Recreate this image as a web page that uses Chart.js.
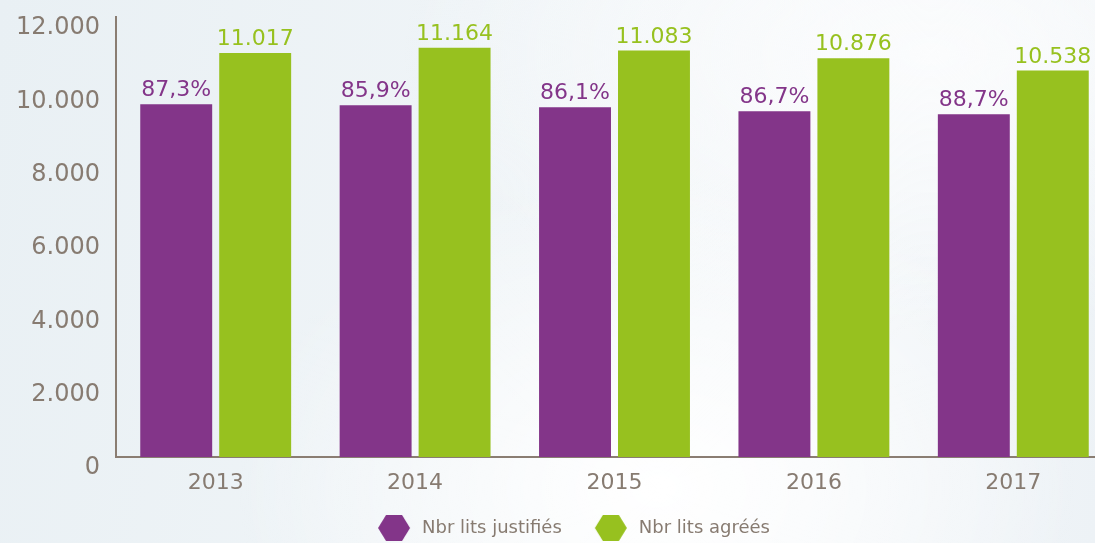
<!DOCTYPE HTML>
<html>
<head>
    <title>Lits justifiés / agréés</title>
    <meta charset="utf-8" />
    <script src="https://cdn.jsdelivr.net/npm/chart.js"></script>
    <style>
        html, body { margin: 0; padding: 0; overflow: hidden; }
        body {
            width: 1095px; height: 543px;
            background:
                radial-gradient(ellipse at 60% 90%, #ffffff 0%, rgba(255,255,255,0) 45%),
                radial-gradient(ellipse at 85% 10%, #fbfcfd 0%, rgba(255,255,255,0) 40%),
                linear-gradient(100deg, #e9f0f4 0%, #eff4f7 40%, #f5f8fa 70%, #edf2f6 100%);
        }
        #wrap { position: absolute; left: 0; top: 0; width: 1145px; height: 543px; }
    </style>
</head>
<body>
    <div id="wrap"><canvas id="graficoLits"></canvas></div>

    <script>
        // données
        var annees = ['2013', '2014', '2015', '2016', '2017'];
        var litsAgrees = [11017, 11164, 11083, 10876, 10538];
        var litsJustifies = [9618, 9590, 9542, 9430, 9347];
        var pctJustifies = ['87,3%', '85,9%', '86,1%', '86,7%', '88,7%'];
        var yTicks = [0, 2000, 4000, 6000, 8000, 10000, 12000];

        var violet = '#833589';
        var vert = '#97c11f';
        var gris = '#877b71';
        var police = '"DejaVu Sans", sans-serif';

        function milliers(v) {
            return String(v).replace(/\B(?=(\d{3})+(?!\d))/g, '.');
        }

        // hexagone pour la légende
        function hexagone(couleur) {
            var c = document.createElement('canvas');
            c.width = 34; c.height = 28;
            var g = c.getContext('2d');
            g.fillStyle = couleur;
            g.beginPath();
            g.moveTo(1, 14);
            g.lineTo(9, 1);
            g.lineTo(25, 1);
            g.lineTo(33, 14);
            g.lineTo(25, 27);
            g.lineTo(9, 27);
            g.closePath();
            g.fill();
            return c;
        }
        var hexas = [hexagone(violet), hexagone(vert)];

        // étiquettes au-dessus des barres
        var etiquettes = {
            id: 'etiquettes',
            afterDatasetsDraw: function (chart) {
                var ctx = chart.ctx;
                ctx.save();
                ctx.font = '22px ' + police;
                ctx.textAlign = 'center';
                ctx.textBaseline = 'alphabetic';
                chart.data.datasets.forEach(function (ds, i) {
                    var meta = chart.getDatasetMeta(i);
                    meta.data.forEach(function (bar, j) {
                        ctx.fillStyle = ds.backgroundColor;
                        var txt = i === 0 ? pctJustifies[j] : milliers(ds.data[j]);
                        ctx.fillText(txt, bar.x, bar.y - 8);
                    });
                });
                ctx.restore();
            }
        };

        // légende : hauteur fixe et petit décalage vers la droite
        var reglageLegende = {
            id: 'reglageLegende',
            afterInit: function (chart) {
                var fit = chart.legend.fit;
                chart.legend.fit = function () {
                    fit.bind(chart.legend)();
                    this.height = 54;
                };
            },
            afterLayout: function (chart) {
                chart.legend.left += 16;
                chart.legend.right += 16;
            }
        };

        var ctx = document.getElementById('graficoLits').getContext('2d');
        var chart = new Chart(ctx, {
            type: 'bar',
            data: {
                labels: annees,
                datasets: [
                    {
                        label: 'Nbr lits justifiés',
                        data: litsJustifies,
                        backgroundColor: violet,
                        borderWidth: 0,
                        categoryPercentage: 0.792,
                        barPercentage: 0.911
                    },
                    {
                        label: 'Nbr lits agréés',
                        data: litsAgrees,
                        backgroundColor: vert,
                        borderWidth: 0,
                        categoryPercentage: 0.792,
                        barPercentage: 0.911
                    }
                ]
            },
            options: {
                responsive: true,
                maintainAspectRatio: false,
                animation: false,
                layout: { padding: { top: 17, right: 32, left: 0, bottom: 0 } },
                plugins: {
                    tooltip: { enabled: false },
                    legend: {
                        position: 'bottom',
                        labels: {
                            usePointStyle: true,
                            pointStyleWidth: 38,
                            color: gris,
                            padding: 30,
                            font: { family: police, size: 18 },
                            generateLabels: function (chart) {
                                var items = Chart.defaults.plugins.legend.labels.generateLabels(chart);
                                items.forEach(function (it, k) { it.pointStyle = hexas[k]; });
                                return items;
                            }
                        }
                    }
                },
                scales: {
                    x: {
                        grid: { display: false, drawTicks: false },
                        border: { display: true, color: '#8a7d72', width: 2 },
                        ticks: { color: gris, padding: 13, font: { family: police, size: 22 } },
                        afterFit: function (s) { s.height = 32; }
                    },
                    y: {
                        min: 0,
                        max: 12000,
                        grid: { display: false, drawTicks: false },
                        border: { display: true, color: '#8a7d72', width: 2 },
                        afterBuildTicks: function (s) {
                            s.ticks = yTicks.map(function (v) { return { value: v }; });
                        },
                        ticks: {
                            color: gris,
                            padding: 16,
                            labelOffset: 11,
                            font: { family: police, size: 24 },
                            callback: function (v) { return milliers(v); }
                        },
                        afterFit: function (s) {
                            s.width = 116;
                            s.paddingTop = 0;
                            s.paddingBottom = 0;
                        }
                    }
                }
            },
            plugins: [etiquettes, reglageLegende]
        });
    </script>
</body>
</html>
